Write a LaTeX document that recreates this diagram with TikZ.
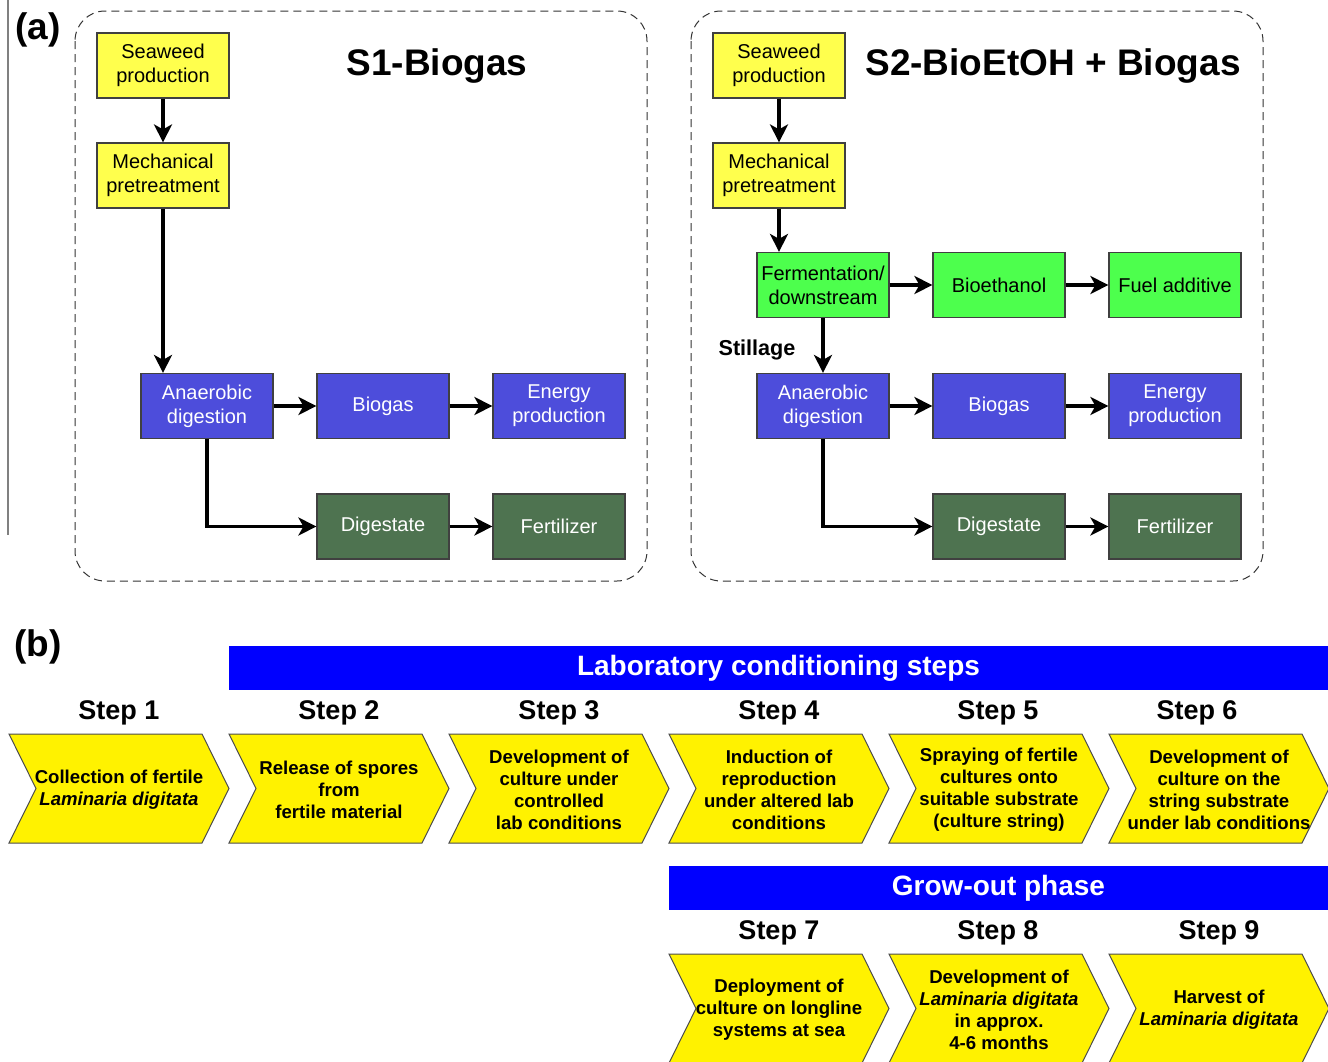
\documentclass[tikz,border=0pt]{standalone}
\usepackage{fontspec}
\setmainfont{Liberation Sans}
\usetikzlibrary{arrows.meta,positioning}
\definecolor{seedyellow}{RGB}{255,255,77}
\definecolor{fermgreen}{RGB}{77,255,77}
\definecolor{digblue}{RGB}{77,77,219}
\definecolor{resgreen}{RGB}{78,115,80}
\definecolor{barblue}{RGB}{0,0,255}
\tikzset{
  box/.style={draw=black!75, line width=0.6pt, minimum width=66pt, minimum height=32.5pt,
    inner sep=1pt, align=center, font=\fontsize{10}{12}\selectfont},
  seedbox/.style={box, fill=seedyellow},
  fermbox/.style={box, fill=fermgreen},
  digbox/.style={box, fill=digblue, text=white},
  resbox/.style={box, fill=resgreen, text=white},
  flow/.style={line width=1.6pt, -{Stealth[length=9pt,width=9pt,inset=2.5pt]}},
  frame/.style={draw=black!80, line width=0.5pt, rounded corners=15pt, dash pattern=on 4pt off 2.5pt},
  chev/.style={fill=yellow, draw=black!70, line width=0.5pt},
  steptext/.style={align=center, inner sep=0pt, font=\fontsize{9.3}{11}\selectfont\bfseries},
  steplabel/.style={inner sep=0pt, font=\fontsize{13.5}{15}\selectfont\bfseries},
  phasebar/.style={fill=barblue, text=white, inner sep=0pt, minimum height=22pt,
    font=\fontsize{14}{16}\selectfont\bfseries},
  title/.style={inner sep=0pt, font=\fontsize{18.5}{20}\selectfont\bfseries},
}
\begin{document}
\begin{tikzpicture}[x=0.5pt,y=-0.5pt]
  \useasboundingbox (0,0) rectangle (1328,1061);
  \pgfmathsetmacro{\dx}{616}
  \draw[gray, line width=0.8pt] (8,0) -- (8,535);
  \node[title] (parta) at (38,30) {(a)};
  \node[title] (partb) at (38,647) {(b)};

  % S1 - biogas only
  \draw[frame] (75,11) rectangle (647,581);
  \node[title] (t1) at (437,66) {S1-Biogas};
  \node[seedbox] (seed1) at (163,65.5) {Seaweed\\production};
  \node[seedbox] (mech1) at (163,175.5) {Mechanical\\pretreatment};
  \node[digbox] (ana1) at (207,406) {Anaerobic\\digestion};
  \node[digbox] (gas1) at (383,406) {Biogas};
  \node[digbox] (en1) at (559,406) {Energy\\production};
  \node[resbox] (dig1) at (383,526.5) {Digestate};
  \node[resbox] (fer1) at (559,526.5) {Fertilizer};
  \draw[flow] (seed1) -- (mech1);
  \draw[flow] (mech1.south) -- (mech1.south |- ana1.north);
  \draw[flow] (ana1) -- (gas1);
  \draw[flow] (gas1) -- (en1);
  \draw[flow] (ana1.south) |- (dig1.west);
  \draw[flow] (dig1) -- (fer1);

  % S2 - bioethanol + biogas
  \draw[frame] (75+\dx,11) rectangle (647+\dx,581);
  \node[title] (t2) at (1053,66) {S2-BioEtOH + Biogas};
  \node[seedbox] (seed2) at (163+\dx,65.5) {Seaweed\\production};
  \node[seedbox] (mech2) at (163+\dx,175.5) {Mechanical\\pretreatment};
  \node[fermbox] (ferm2) at (207+\dx,285) {Fermentation/\\downstream};
  \node[fermbox] (eth2) at (383+\dx,285) {Bioethanol};
  \node[fermbox] (fuel2) at (559+\dx,285) {Fuel additive};
  \node[digbox] (ana2) at (207+\dx,406) {Anaerobic\\digestion};
  \node[digbox] (gas2) at (383+\dx,406) {Biogas};
  \node[digbox] (en2) at (559+\dx,406) {Energy\\production};
  \node[resbox] (dig2) at (383+\dx,526.5) {Digestate};
  \node[resbox] (fer2) at (559+\dx,526.5) {Fertilizer};
  \node[inner sep=0pt, font=\fontsize{10.8}{12}\selectfont\bfseries] (still) at (757,350) {Stillage};
  \draw[flow] (seed2) -- (mech2);
  \draw[flow] (mech2.south) -- (mech2.south |- ferm2.north);
  \draw[flow] (ferm2) -- (eth2);
  \draw[flow] (eth2) -- (fuel2);
  \draw[flow] (ferm2) -- (ana2);
  \draw[flow] (ana2) -- (gas2);
  \draw[flow] (gas2) -- (en2);
  \draw[flow] (ana2.south) |- (dig2.west);
  \draw[flow] (dig2) -- (fer2);

  % (b) cultivation steps
  \node[phasebar, minimum width=549.5pt] (labbar) at (778.5,668) {Laboratory conditioning steps};
  \node[phasebar, minimum width=329.5pt] (growbar) at (998.5,888) {Grow-out phase};
  \foreach \n/\x/\y/\lx/\txt in {
      1/9/734/119/{Collection of fertile\\\textit{Laminaria digitata}},
      2/229/734/339/{Release of spores\\from\\fertile material},
      3/449/734/559/{Development of\\culture under\\controlled\\lab conditions},
      4/669/734/779/{Induction of\\reproduction\\under altered lab\\conditions},
      5/889/734/998/{Spraying of fertile\\cultures onto\\suitable substrate\\(culture string)},
      6/1109/734/1197/{Development of\\culture on the\\string substrate\\under lab conditions},
      7/669/954/779/{Deployment of\\culture on longline\\systems at sea},
      8/889/954/998/{Development of\\\textit{Laminaria digitata}\\in approx.\\4-6 months},
      9/1109/954/1219/{Harvest of\\\textit{Laminaria digitata}}}{
    \filldraw[chev] (\x,\y) -- ++(193,0) -- ++(27,54.5) -- ++(-27,54.5) -- ++(-193,0) -- ++(27,-54.5) -- cycle;
    \node[steptext] (step\n) at (\x+110,\y+55.5) {\txt};
    \node[steplabel] (lab\n) at (\lx,\y-21) {Step \n};
  }
\end{tikzpicture}
\end{document}
